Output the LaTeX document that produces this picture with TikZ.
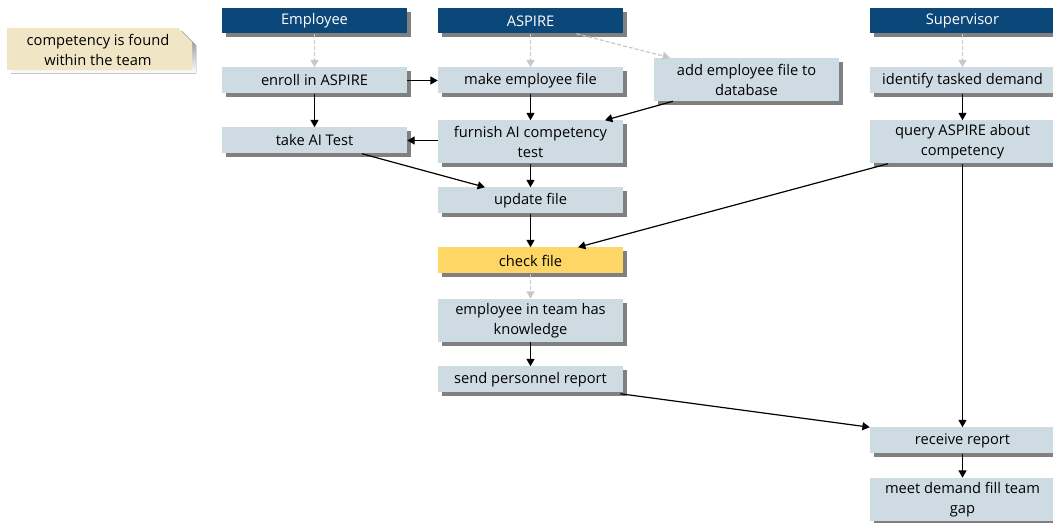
\documentclass[tikz,border=0pt]{standalone}
\usepackage{fontspec}
\setmainfont{Open Sans}
\usetikzlibrary{arrows.meta,shadows,calc}
\definecolor{hdrblue}{RGB}{12,71,122}
\definecolor{stepfill}{RGB}{207,219,227}
\definecolor{checkyellow}{RGB}{253,214,101}
\definecolor{notefill}{RGB}{240,230,198}
\definecolor{shade}{RGB}{128,128,128}
\definecolor{flowgray}{RGB}{200,200,200}

\tikzset{
  lbl/.style={font=\fontsize{11}{15}\selectfont},
  base/.style={rectangle, inner sep=0pt, align=center, minimum width=138.75pt, lbl,
    drop shadow={shadow xshift=3pt, shadow yshift=-3pt, fill=shade, opacity=1}},
  header/.style={base, fill=hdrblue, text=white, minimum height=18.75pt},
  stepbox/.style={base, fill=stepfill, minimum height=19.5pt},
  tallbox/.style={base, fill=stepfill, minimum height=32.25pt},
  flow/.style={-{Triangle[length=5.5pt,width=6pt]}, line width=0.9pt},
  ghost/.style={-{Triangle[length=5.5pt,width=6pt]}, line width=0.9pt,
    draw=flowgray, dash pattern=on 3pt off 1.5pt},
}

\begin{document}
\begin{tikzpicture}[x=0.75pt, y=-0.75pt]
\clip (0,0) rectangle (1053,523);

% note with cut corner
\fill[shade] (11,31.5) -- (182,31.5) -- (196,45.5) -- (196,73.5) -- (11,73.5) -- cycle;
\fill[notefill] (7,28) -- (178,28) -- (192,42) -- (192,70) -- (7,70) -- cycle;
\node[align=center, lbl, inner sep=0pt] (note) at (98,50) {competency is found\\within the team};

% Employee lane
\node[header] (emp) at (314.5,21) {Employee};
\node[stepbox] (enroll) at (314.5,80.5) {enroll in ASPIRE};
\node[stepbox] (take) at (314.5,140.5) {take AI Test};

% ASPIRE lane
\node[header] (asp) at (530.5,21) {ASPIRE};
\node[stepbox] (make) at (530.5,80.5) {make employee file};
\node[tallbox] (add) at (746.5,79.5) {add employee file to\\database};
\node[tallbox] (furnish) at (530.5,142) {furnish AI competency\\test};
\node[stepbox] (update) at (530.5,200.5) {update file};
\node[stepbox, fill=checkyellow] (check) at (530.5,260.5) {check file};
\node[tallbox] (know) at (530.5,320.5) {employee in team has\\knowledge};
\node[stepbox] (send) at (530.5,379.5) {send personnel report};

% Supervisor lane
\node[header] (sup) at (962.5,21) {Supervisor};
\node[stepbox] (ident) at (962.5,80.5) {identify tasked demand};
\node[tallbox] (query) at (962.5,142) {query ASPIRE about\\competency};
\node[stepbox] (recv) at (962.5,440.5) {receive report};
\node[tallbox] (meet) at (962.5,499.5) {meet demand fill team\\gap};

% connectors
\draw[ghost] (emp) -- (enroll);
\draw[ghost] (asp) -- (make);
\draw[ghost] ($(asp.south)+(46,0)$) -- ($(add.north)+(-76.5,0)$);
\draw[ghost] (sup) -- (ident);
\draw[ghost] (check) -- (know);

\draw[flow] (enroll) -- (take);
\draw[flow] (enroll) -- (make);
\draw[flow] (make) -- (furnish);
\draw[flow] ($(add.south)+(-73.5,0)$) -- ($(furnish.north)+(74.5,0)$);
\draw[flow] (furnish.west |- take.east) -- (take.east);
\draw[flow] ($(take.south)+(47.5,0)$) -- ($(update.north)+(-45.5,0)$);
\draw[flow] (furnish) -- (update);
\draw[flow] (update) -- (check);
\draw[flow] ($(query.south)+(-74.5,0)$) -- ($(check.north)+(47.5,0)$);
\draw[flow] (know) -- (send);
\draw[flow] ($(send.south east)+(-3,1)$) -- (recv.north west);
\draw[flow] (ident) -- (query);
\draw[flow] (query) -- (recv);
\draw[flow] (recv) -- (meet);
\end{tikzpicture}
\end{document}
